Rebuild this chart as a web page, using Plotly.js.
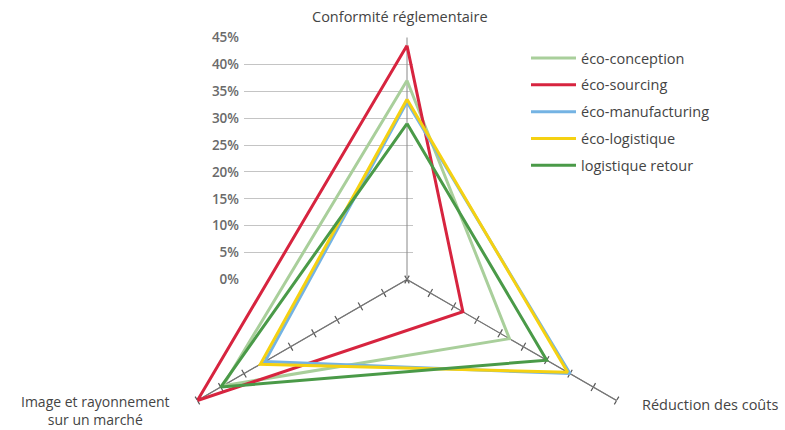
<!DOCTYPE html>
<html><head><meta charset="utf-8">
<script src="https://cdn.plot.ly/plotly-3.0.1.min.js"></script>
<style>
html,body{margin:0;padding:0;background:#fff}
#frame{width:785px;height:430px;overflow:hidden;position:relative}
#chart{width:785px;height:530px}
</style>
</head><body><div id="frame"><div id="chart"></div></div>
<script>
// ---- data ----
const axisLabels = ['Conformité réglementaire', 'Réduction des coûts', 'Image et rayonnement<br>sur un marché'];
const seriesNames = ['éco-conception', 'éco-sourcing', 'éco-manufacturing', 'éco-logistique', 'logistique retour'];
const ecoConception    = [37,   22,   39.5];
const ecoSourcing      = [43.5, 12,   45];
const ecoManufacturing = [33,   35,   30.5];
const ecoLogistique    = [33.5, 34.5, 31.5];
const logistiqueRetour = [29,   30,   40];
const tickValues = [0, 5, 10, 15, 20, 25, 30, 35, 40, 45];
const tickLabels = ['0%', '5%', '10%', '15%', '20%', '25%', '30%', '35%', '40%', '45%'];

// ---- styles / geometry ----
const seriesValues = [ecoConception, ecoSourcing, ecoManufacturing, ecoLogistique, logistiqueRetour];
const colors = ['#a9cf9b', '#d7243f', '#74b3e3', '#f5d112', '#4a9a48'];
// The full polar circle is taller than the 430px view, so the figure is 530px tall
// and the empty lower part is hidden by the 430px frame.
const W = 785, H = 530;
const px = x => x / W, py = y => (H - y) / H;
const cx = 407, cy = 279.5, R = 242;
const polarDomain = {x: [px(cx - R), px(cx + R)], y: [py(cy + R), py(cy - R)]};
const FONT = 'Open Sans, Noto Sans, sans-serif';

const traces = [];
const layout = {
  width: W, height: H,
  margin: {l: 0, r: 0, t: 0, b: 0},
  paper_bgcolor: '#fff', plot_bgcolor: 'rgba(0,0,0,0)',
  font: {family: FONT, color: '#555', size: 13},
  showlegend: true,
  legend: {x: px(526), y: py(42), xanchor: 'left', yanchor: 'top',
           font: {family: FONT, size: 14.5, color: '#444'}, traceorder: 'grouped',
           tracegroupgap: 5, itemwidth: 45, bgcolor: 'rgba(0,0,0,0)'},
  xaxis: {domain: [px(244), px(413)], range: [0, 1], visible: false, fixedrange: true},
  yaxis: {domain: [py(cy), py(cy - R)], range: [0, 45],
          tickvals: tickValues, ticktext: tickLabels, showgrid: true, gridcolor: '#c4c4c4', gridwidth: 1,
          zeroline: false, showline: false, ticks: '', ticklabelstandoff: 4,
          tickfont: {family: FONT, size: 13.5, color: '#6a6a6a', weight: 600}, fixedrange: true},
  annotations: [
    {text: axisLabels[0], x: px(400), y: py(17), xref: 'paper', yref: 'paper',
     xanchor: 'center', yanchor: 'middle', showarrow: false, font: {family: FONT, size: 14.5, color: '#444'}},
    {text: axisLabels[1], x: px(640), y: py(405), xref: 'paper', yref: 'paper',
     xanchor: 'left', yanchor: 'middle', showarrow: false, font: {family: FONT, size: 14.5, color: '#444'}},
    {text: axisLabels[2], x: px(95), y: py(410), xref: 'paper', yref: 'paper', align: 'center',
     xanchor: 'center', yanchor: 'middle', showarrow: false, font: {family: FONT, size: 14, color: '#444'}}
  ]
};

// cartesian subplot for the horizontal gridlines + % labels
traces.push({type: 'scatter', x: [], y: [], xaxis: 'x', yaxis: 'y', showlegend: false, hoverinfo: 'skip'});

// tick-only polar subplots for the two lower axes (ticks crossing the line)
const tickAxes = [[210, 'outside'], [210, 'inside'], [330, 'outside'], [330, 'inside']];
tickAxes.forEach((t, i) => {
  const id = 'polar' + (i === 0 ? '' : (i + 1));
  layout[id] = {
    domain: polarDomain, bgcolor: 'rgba(0,0,0,0)',
    radialaxis: {angle: t[0], range: [0, 45], tickvals: tickValues, ticks: t[1], ticklen: 4,
                 tickcolor: '#555', tickwidth: 1.2, showticklabels: false, showline: true,
                 linecolor: '#777', linewidth: 1, showgrid: false},
    angularaxis: {visible: false}
  };
  traces.push({type: 'scatterpolar', r: [], theta: [], subplot: id, showlegend: false, hoverinfo: 'skip'});
});

// data polar subplot
const dataId = 'polar5';
layout[dataId] = {
  domain: polarDomain, bgcolor: 'rgba(0,0,0,0)',
  radialaxis: {angle: 90, range: [0, 45], showticklabels: false, ticks: '', showline: true,
               linecolor: '#888', linewidth: 1, showgrid: false, layer: 'below traces'},
  angularaxis: {type: 'category', categoryarray: axisLabels, rotation: 90, direction: 'clockwise',
                showline: false, showgrid: false, ticks: '', showticklabels: false}
};
seriesValues.forEach((vals, i) => {
  traces.push({
    type: 'scatterpolar', subplot: dataId, name: seriesNames[i], legendgroup: 'g' + i,
    r: vals.concat([vals[0]]), theta: axisLabels.concat([axisLabels[0]]),
    mode: 'lines', line: {color: colors[i], width: 3}, hoverinfo: 'name+r+theta'
  });
});

Plotly.newPlot('chart', traces, layout, {displayModeBar: false, staticPlot: true});
</script></body></html>
